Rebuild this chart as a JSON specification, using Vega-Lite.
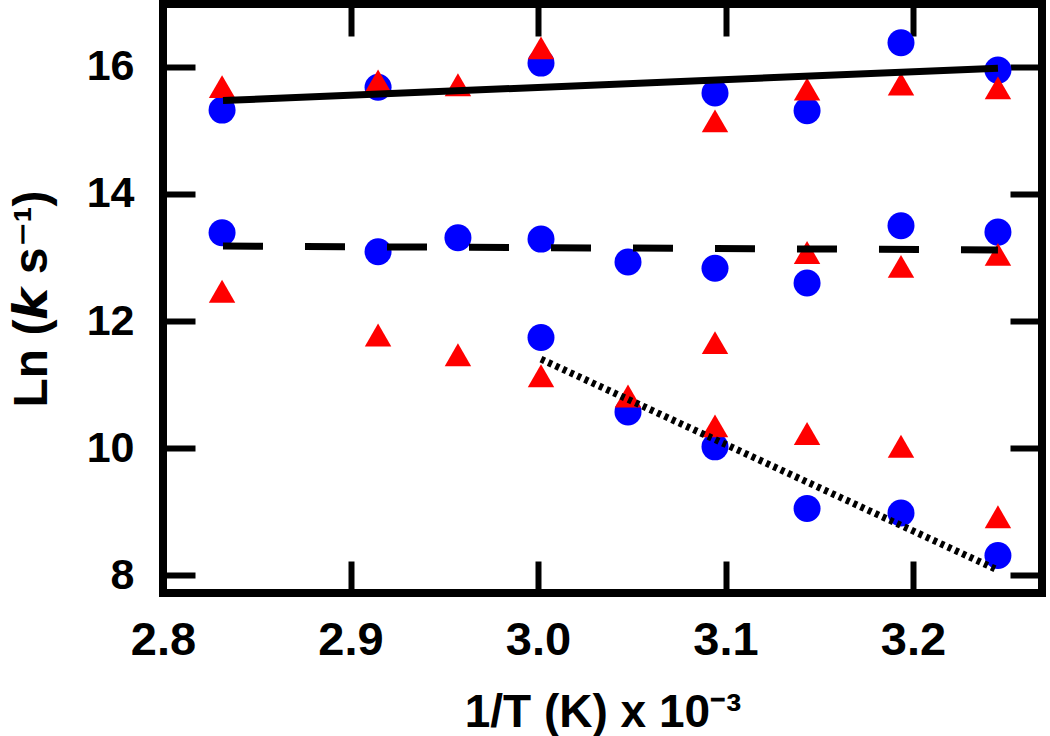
{
  "$schema": "https://vega.github.io/schema/vega-lite/v6.json",
  "width": 879,
  "height": 589,
  "autosize": {"type": "none"},
  "padding": {"left": 163, "top": 4, "right": 8, "bottom": 143},
  "background": "white",
  "config": {
    "view": {"stroke": "black", "strokeWidth": 8},
    "font": "Liberation Sans",
    "axis": {
      "domain": false,
      "grid": false,
      "ticks": true,
      "tickColor": "black",
      "tickWidth": 6,
      "tickSize": 32,
      "offset": -32,
      "labelFont": "Liberation Sans",
      "labelFontWeight": "bold",
      "labelColor": "black",
      "labelFlush": false,
      "labelOverlap": false,
      "labelBound": false,
      "titleFont": "Liberation Sans",
      "titleFontWeight": "bold",
      "titleFontSize": 46,
      "titleColor": "black"
    }
  },
  "datasets": {
    "points": [
      {"invT": 2.8315, "lnk": 15.32, "species": "circle"},
      {"invT": 2.8315, "lnk": 13.39, "species": "circle"},
      {"invT": 2.9147, "lnk": 15.68, "species": "circle"},
      {"invT": 2.9147, "lnk": 13.09, "species": "circle"},
      {"invT": 2.9573, "lnk": 13.31, "species": "circle"},
      {"invT": 3.0016, "lnk": 16.06, "species": "circle"},
      {"invT": 3.0016, "lnk": 13.29, "species": "circle"},
      {"invT": 3.0016, "lnk": 11.74, "species": "circle"},
      {"invT": 3.048, "lnk": 12.93, "species": "circle"},
      {"invT": 3.048, "lnk": 10.57, "species": "circle"},
      {"invT": 3.0944, "lnk": 15.59, "species": "circle"},
      {"invT": 3.0944, "lnk": 12.83, "species": "circle"},
      {"invT": 3.0944, "lnk": 10.02, "species": "circle"},
      {"invT": 3.1435, "lnk": 15.31, "species": "circle"},
      {"invT": 3.1435, "lnk": 12.6, "species": "circle"},
      {"invT": 3.1435, "lnk": 9.05, "species": "circle"},
      {"invT": 3.1936, "lnk": 16.38, "species": "circle"},
      {"invT": 3.1936, "lnk": 13.5, "species": "circle"},
      {"invT": 3.1936, "lnk": 8.98, "species": "circle"},
      {"invT": 3.2453, "lnk": 15.95, "species": "circle"},
      {"invT": 3.2453, "lnk": 13.4, "species": "circle"},
      {"invT": 3.2453, "lnk": 8.31, "species": "circle"},
      {"invT": 2.8315, "lnk": 15.69, "species": "triangle"},
      {"invT": 2.8315, "lnk": 12.47, "species": "triangle"},
      {"invT": 2.9147, "lnk": 15.78, "species": "triangle"},
      {"invT": 2.9147, "lnk": 11.78, "species": "triangle"},
      {"invT": 2.9573, "lnk": 15.72, "species": "triangle"},
      {"invT": 2.9573, "lnk": 11.47, "species": "triangle"},
      {"invT": 3.0016, "lnk": 16.3, "species": "triangle"},
      {"invT": 3.0016, "lnk": 11.14, "species": "triangle"},
      {"invT": 3.048, "lnk": 10.82, "species": "triangle"},
      {"invT": 3.0944, "lnk": 15.15, "species": "triangle"},
      {"invT": 3.0944, "lnk": 11.66, "species": "triangle"},
      {"invT": 3.0944, "lnk": 10.35, "species": "triangle"},
      {"invT": 3.1435, "lnk": 15.65, "species": "triangle"},
      {"invT": 3.1435, "lnk": 13.08, "species": "triangle"},
      {"invT": 3.1435, "lnk": 10.23, "species": "triangle"},
      {"invT": 3.1936, "lnk": 15.73, "species": "triangle"},
      {"invT": 3.1936, "lnk": 12.86, "species": "triangle"},
      {"invT": 3.1936, "lnk": 10.03, "species": "triangle"},
      {"invT": 3.2453, "lnk": 15.67, "species": "triangle"},
      {"invT": 3.2453, "lnk": 13.05, "species": "triangle"},
      {"invT": 3.2453, "lnk": 8.92, "species": "triangle"}
    ],
    "fits": [
      {"invT": 2.832, "lnk": 15.47, "fit": "solid"},
      {"invT": 3.2453, "lnk": 15.98, "fit": "solid"},
      {"invT": 2.832, "lnk": 13.18, "fit": "dashed"},
      {"invT": 3.2453, "lnk": 13.12, "fit": "dashed"},
      {"invT": 3.0016, "lnk": 11.4, "fit": "dotted"},
      {"invT": 3.2453, "lnk": 8.08, "fit": "dotted"}
    ]
  },
  "resolve": {"axis": {"x": "independent", "y": "independent"}},
  "layer": [
    {
      "data": {"name": "points"},
      "transform": [{"filter": "datum.species === 'circle'"}],
      "mark": {"type": "point", "shape": "circle", "filled": true, "opacity": 1, "color": "#0000ff", "size": 729},
      "encoding": {
        "x": {"field": "invT", "type": "quantitative",
              "scale": {"domain": [2.8, 3.2688], "nice": false, "zero": false},
              "axis": {"orient": "bottom", "values": [2.8, 2.9, 3.0, 3.1, 3.2], "format": ".1f", "labelFontSize": 47, "labelPadding": 24, "title": "1/T (K) x 10⁻³", "titlePadding": 27}},
        "y": {"field": "lnk", "type": "quantitative",
              "scale": {"domain": [7.72, 16.99], "nice": false, "zero": false},
              "axis": {"orient": "left", "values": [8, 10, 12, 14, 16], "labelFontSize": 43, "labelPadding": 29, "title": "Ln (𝙠 s⁻¹)", "titleFontSize": 48, "titlePadding": 30}}
      }
    },
    {
      "data": {"name": "points"},
      "transform": [{"filter": "datum.species === 'triangle'"}],
      "mark": {"type": "point", "shape": "triangle-up", "filled": true, "opacity": 1, "color": "#ff0000", "size": 700},
      "encoding": {
        "x": {"field": "invT", "type": "quantitative",
              "axis": {"orient": "top", "values": [2.8, 2.9, 3.0, 3.1, 3.2], "labels": false, "title": null}},
        "y": {"field": "lnk", "type": "quantitative",
              "axis": {"orient": "right", "values": [8, 10, 12, 14, 16], "labels": false, "title": null}}
      }
    },
    {
      "data": {"name": "fits"},
      "transform": [{"filter": "datum.fit === 'solid'"}],
      "mark": {"type": "line", "color": "black", "strokeWidth": 7, "strokeCap": "butt"},
      "encoding": {
        "x": {"field": "invT", "type": "quantitative", "axis": null},
        "y": {"field": "lnk", "type": "quantitative", "axis": null}
      }
    },
    {
      "data": {"name": "fits"},
      "transform": [{"filter": "datum.fit === 'dashed'"}],
      "mark": {"type": "line", "color": "black", "strokeWidth": 7, "strokeCap": "butt", "strokeDash": [40, 42]},
      "encoding": {
        "x": {"field": "invT", "type": "quantitative", "axis": null},
        "y": {"field": "lnk", "type": "quantitative", "axis": null}
      }
    },
    {
      "data": {"name": "fits"},
      "transform": [{"filter": "datum.fit === 'dotted'"}],
      "mark": {"type": "line", "color": "black", "strokeWidth": 7, "strokeCap": "butt", "strokeDash": [4, 4]},
      "encoding": {
        "x": {"field": "invT", "type": "quantitative", "axis": null},
        "y": {"field": "lnk", "type": "quantitative", "axis": null}
      }
    }
  ]
}
